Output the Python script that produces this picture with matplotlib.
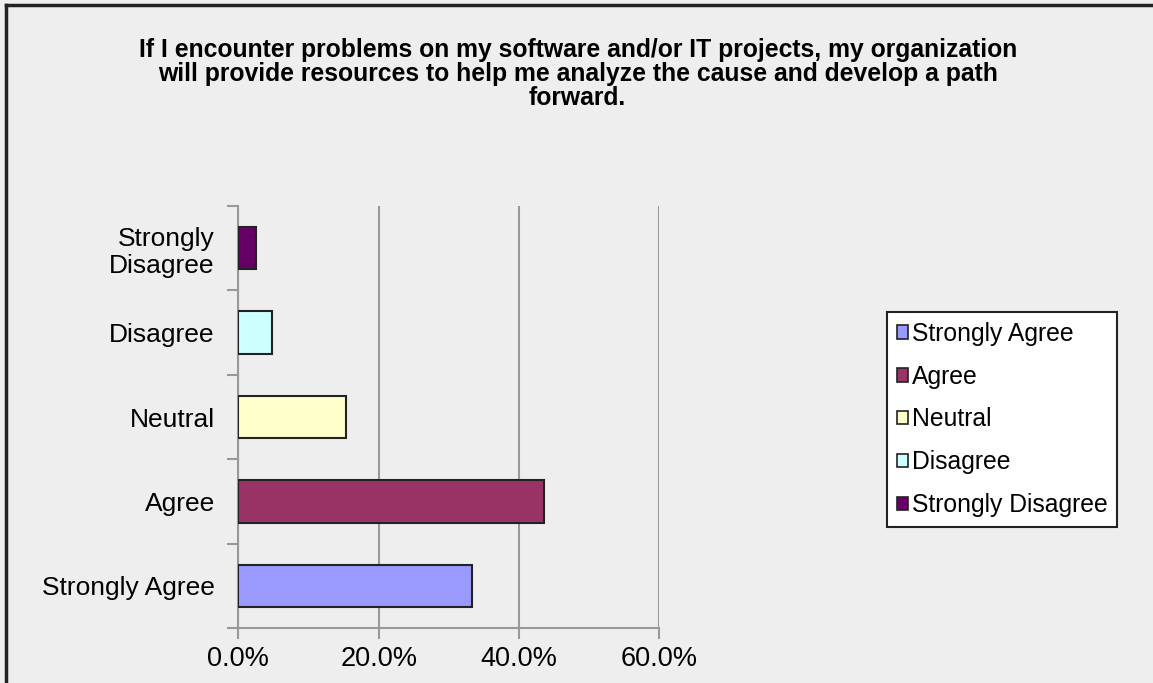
import numpy as np
import matplotlib.pyplot as plt
from matplotlib.lines import Line2D
from matplotlib.patches import Patch

plt.rcParams['font.family'] = ['Liberation Sans', 'DejaVu Sans']

categories = ['Strongly Agree', 'Agree', 'Neutral', 'Disagree', 'Strongly Disagree']
tick_labels = ['Strongly Agree', 'Agree', 'Neutral', 'Disagree', 'Strongly\nDisagree']
values = [33.3, 43.6, 15.4, 4.8, 2.5]
colors = ['#9999FF', '#993366', '#FFFFCC', '#CCFFFF', '#660066']
xticks = [0, 20, 40, 60]

title = ("If I encounter problems on my software and/or IT projects, my organization\n"
         "will provide resources to help me analyze the cause and develop a path\n"
         "forward.")

bg = '#EEEEEE'
fig = plt.figure(figsize=(11.53, 6.83), dpi=100, facecolor=bg)
ax = fig.add_axes([0.2067, 0.0805, 0.3651, 0.6179])
ax.set_facecolor(bg)

y = np.arange(len(categories))
ax.barh(y, values, height=0.5, color=colors, edgecolor='#222222', linewidth=1.5, zorder=3)

ax.set_xlim(0, 60)
ax.set_ylim(-0.5, 4.5)
ax.set_xticks(xticks)
ax.set_xticklabels(['%.1f%%' % t for t in xticks], fontsize=19.5)
ax.grid(axis='x', color='#999999', linewidth=1.5, zorder=0)

ax.set_yticks(np.arange(-0.5, 5, 1))
ax.set_yticklabels([])
ax.set_yticks(y, minor=True)
ax.set_yticklabels(tick_labels, minor=True, fontsize=19, linespacing=1.2)
ax.tick_params(axis='y', which='minor', length=0, pad=17)
ax.tick_params(axis='y', which='major', length=8, color='#999999', width=1.5)
ax.tick_params(axis='x', length=8, color='#999999', width=1.5, pad=5)

for s in ['top', 'right']:
    ax.spines[s].set_visible(False)
for s in ['left', 'bottom']:
    ax.spines[s].set_color('#999999')
    ax.spines[s].set_linewidth(1.5)

fig.text(0.501, 1 - 38 / 683, title, ha='center', va='top', fontsize=17.8,
         fontweight='bold', linespacing=1.0)

handles = [Patch(facecolor=c, edgecolor='#222222', linewidth=1.2) for c in colors]
leg = fig.legend(handles, categories, loc='upper left',
                 bbox_to_anchor=(887 / 1153, 1 - 312 / 683), fontsize=17.8,
                 frameon=True, fancybox=False, edgecolor='#222222', framealpha=1,
                 facecolor='white',
                 handlelength=0.45, handleheight=0.45, handletextpad=0.15,
                 labelspacing=0.76, borderpad=0.4, borderaxespad=0)
leg.get_frame().set_linewidth(1.5)

# border along left and top of the frame
fig.add_artist(Line2D([0.0055, 0.0055], [0, 0.9925], color='#222222', linewidth=2.5,
                      transform=fig.transFigure))
fig.add_artist(Line2D([0.0055, 1], [0.9925, 0.9925], color='#222222', linewidth=2.5,
                      transform=fig.transFigure))

fig.savefig('out.png', dpi=100, facecolor=bg)
